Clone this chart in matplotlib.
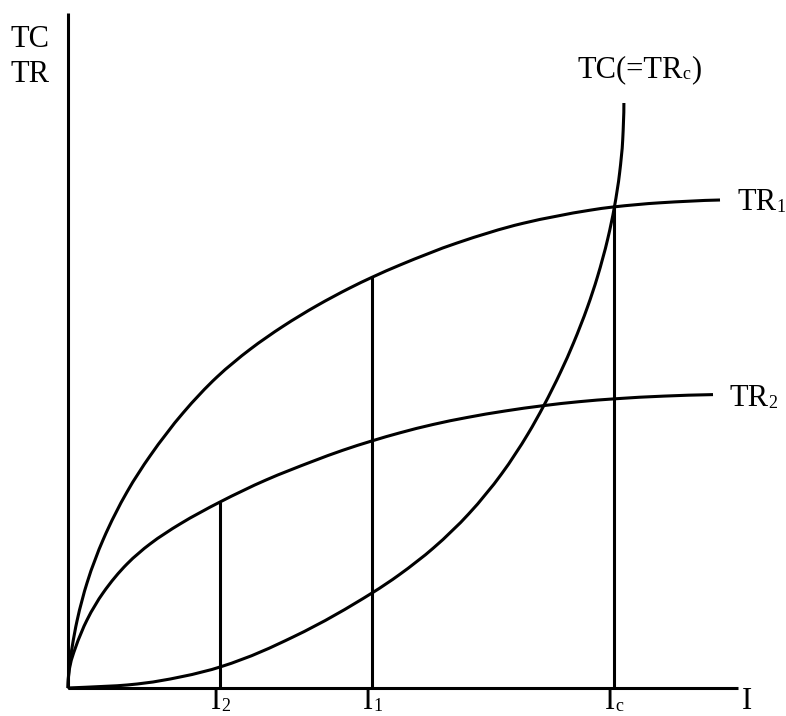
import matplotlib
matplotlib.use("Agg")
import matplotlib.pyplot as plt
from matplotlib.path import Path
from matplotlib.patches import PathPatch

# ---- data (I on the horizontal, TC/TR on the vertical) ----
tr1_I = [0, 0.3, 1, 4, 9, 19, 35, 59, 82, 115, 149, 182, 215, 249, 282, 304, 332, 389, 455, 522, 545, 592, 652]
tr1_V = [0, 9, 18, 40, 67, 105, 148, 196, 232, 275, 311, 338.6, 361.7, 382.4, 400.1, 410.7, 423, 445, 464.7, 477.8, 481, 485.2, 488]

tr2_I = [0, 0.5, 2, 7, 19, 35, 59, 82, 112, 152, 198, 245, 275, 304, 332, 365, 399, 437, 475, 511, 547, 596, 645]
tr2_V = [0, 11, 22, 39, 68, 95, 124, 144, 164, 186, 208, 226.8, 237.8, 247.1, 255.2, 263.5, 270.5, 277, 282.3, 286.3, 289.2, 291.9, 293.4]

tc_I = [0, 59, 112, 152, 225, 304, 330.9, 365.4, 400.6, 433.5, 459.9, 475.6, 492.6, 505.5, 519.5, 529.4, 539.7, 546.4, 551.6, 554.7, 555.9]
tc_V = [0, 3, 11, 21, 51, 95, 113, 140, 174, 214, 254, 282, 316, 345, 381, 411, 449, 481, 515, 548, 585]

# vertical guide lines: position on I axis and height of the curve they reach
guide_I = [152, 304, 546]
guide_top = [186, 410.7, 481]

tick_main = ["I", "I", "I"]
tick_sub = ["2", "1", "c"]

axis_x_end = 670
axis_y_end = 675


def pchip_bezier(us, vs):
    """Monotone cubic Hermite (PCHIP) segments as Bezier control points, v as a function of u."""
    n = len(us)
    h = [us[i + 1] - us[i] for i in range(n - 1)]
    d = [(vs[i + 1] - vs[i]) / h[i] for i in range(n - 1)]
    m = [0.0] * n
    for k in range(1, n - 1):
        if d[k - 1] * d[k] <= 0:
            m[k] = 0.0
        else:
            w1 = 2 * h[k] + h[k - 1]
            w2 = h[k] + 2 * h[k - 1]
            m[k] = (w1 + w2) / (w1 / d[k - 1] + w2 / d[k])

    def endslope(h0, h1, d0, d1):
        s = ((2 * h0 + h1) * d0 - h0 * d1) / (h0 + h1)
        if s * d0 <= 0:
            return 0.0
        if d0 * d1 <= 0 and abs(s) > abs(3 * d0):
            return 3 * d0
        return s

    m[0] = endslope(h[0], h[1], d[0], d[1])
    m[-1] = endslope(h[-1], h[-2], d[-1], d[-2])
    pts = [(us[0], vs[0])]
    for i in range(n - 1):
        t = h[i] / 3.0
        pts += [(us[i] + t, vs[i] + m[i] * t),
                (us[i + 1] - t, vs[i + 1] - m[i + 1] * t),
                (us[i + 1], vs[i + 1])]
    return pts


def smooth_path(xs, ys, along="x"):
    if along == "x":
        verts = pchip_bezier(xs, ys)
    else:  # curve steep at the top: treat I as a function of the value
        verts = [(b, a) for a, b in pchip_bezier(ys, xs)]
    codes = [Path.MOVETO] + [Path.CURVE4] * (len(verts) - 1)
    return Path(verts, codes)


# ---- figure ----
fig = plt.figure(figsize=(7.86, 7.16), dpi=100)
ax = fig.add_axes([0, 0, 1, 1])
ax.set_xlim(-68, 718)
ax.set_ylim(-28, 688)
ax.axis("off")

lw = 2.2
col = "black"
ax.plot([0, axis_x_end], [0, 0], color=col, lw=lw, solid_capstyle="butt")
ax.plot([0, 0], [0, axis_y_end], color=col, lw=lw, solid_capstyle="butt")

for xs, ys, along in [(tr1_I, tr1_V, "x"), (tr2_I, tr2_V, "x"), (tc_I, tc_V, "y")]:
    ax.add_patch(PathPatch(smooth_path(xs, ys, along), facecolor="none", edgecolor=col,
                           lw=lw, capstyle="butt", joinstyle="round"))

for gx, gt in zip(guide_I, guide_top):
    ax.plot([gx, gx], [0, gt], color=col, lw=lw, solid_capstyle="butt")

font = "Liberation Serif"
big = 22
small = 13


def label(x, y, main, sub=None, tail=None):
    t = ax.text(x, y, main, fontsize=big, family=font, ha="left", va="baseline")
    last = t
    if sub:
        last = ax.annotate(sub, xy=(1, 0), xycoords=t, xytext=(0.3, 1), textcoords="offset points",
                           fontsize=small, family=font, ha="left", va="bottom")
    if tail:
        ax.annotate(tail, xy=(1, 0), xycoords=last, xytext=(0, -1), textcoords="offset points",
                    fontsize=big, family=font, ha="left", va="bottom")
    return t


label(-58, 641, "TC")
label(-58, 606, "TR")
label(509, 611, "TC(=TR", "c", ")")
label(669, 478, "TR", "1")
label(661, 282, "TR", "2")

for gx, m, s in zip(guide_I, tick_main, tick_sub):
    label(gx - 9, -21, m, s)
label(674, -21, "I")

fig.savefig("out.png", dpi=100)
